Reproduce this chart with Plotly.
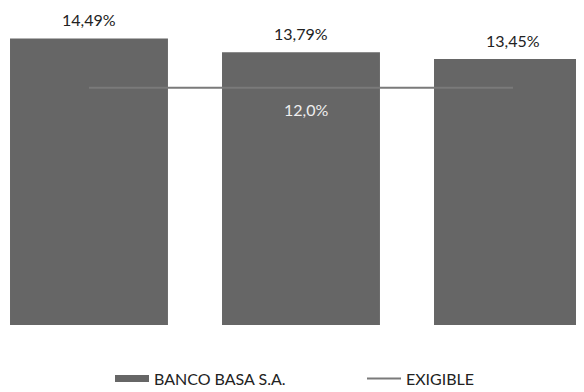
import plotly.graph_objects as go

# data
periods = ["P1", "P2", "P3"]
banco_basa = [14.49, 13.79, 13.45]
exigible = [12.0, 12.0, 12.0]

bar_color = "#666666"
line_color = "#7a7a7a"
font_name = "Lato, Open Sans, sans-serif"

fig = go.Figure()

# legend-only entry, drawn as a wide thick stroke like the original swatch
fig.add_trace(go.Scatter(x=[None], y=[None], mode="lines", name="BANCO BASA S.A.",
                         line=dict(color=bar_color, width=7), legend="legend"))
fig.add_trace(go.Bar(x=periods, y=banco_basa, marker_color=bar_color,
                     marker_line_width=0, showlegend=False))
fig.add_trace(go.Scatter(x=periods, y=exigible, mode="lines", name="EXIGIBLE",
                         line=dict(color=line_color, width=2), legend="legend2"))

# value labels above bars
for p, v in zip(periods, banco_basa):
    fig.add_annotation(x=p, y=v, text=f"{v:.2f}%".replace(".", ","),
                       showarrow=False, yanchor="bottom", yshift=7,
                       font=dict(size=16, color="#222222", family=font_name))

# label for the required level, on the middle bar
fig.add_annotation(x=periods[1], y=exigible[1], text=f"{exigible[1]:.1f}%".replace(".", ","),
                   showarrow=False, yanchor="top", yshift=-10, xshift=5,
                   font=dict(size=16, color="#eeeeee", family=font_name))

legend_style = dict(orientation="h", xanchor="left", yref="container", y=0.035,
                    yanchor="middle", itemwidth=34, font=dict(size=16, color="#222222"))

# page body has an 8px margin, so the figure is 8px smaller than the window
fig.update_layout(
    width=576, height=384,
    margin=dict(l=0, r=0, t=0, b=67),
    paper_bgcolor="white", plot_bgcolor="white",
    bargap=0.255,
    font=dict(family=font_name, size=16, color="#222222"),
    xaxis=dict(type="category", range=[-0.382, 2.335], visible=False),
    yaxis=dict(range=[0, 16.03], visible=False),
    legend=dict(x=102 / 576, **legend_style),
    legend2=dict(x=354 / 576, **legend_style),
)

fig.write_html("out.html")
